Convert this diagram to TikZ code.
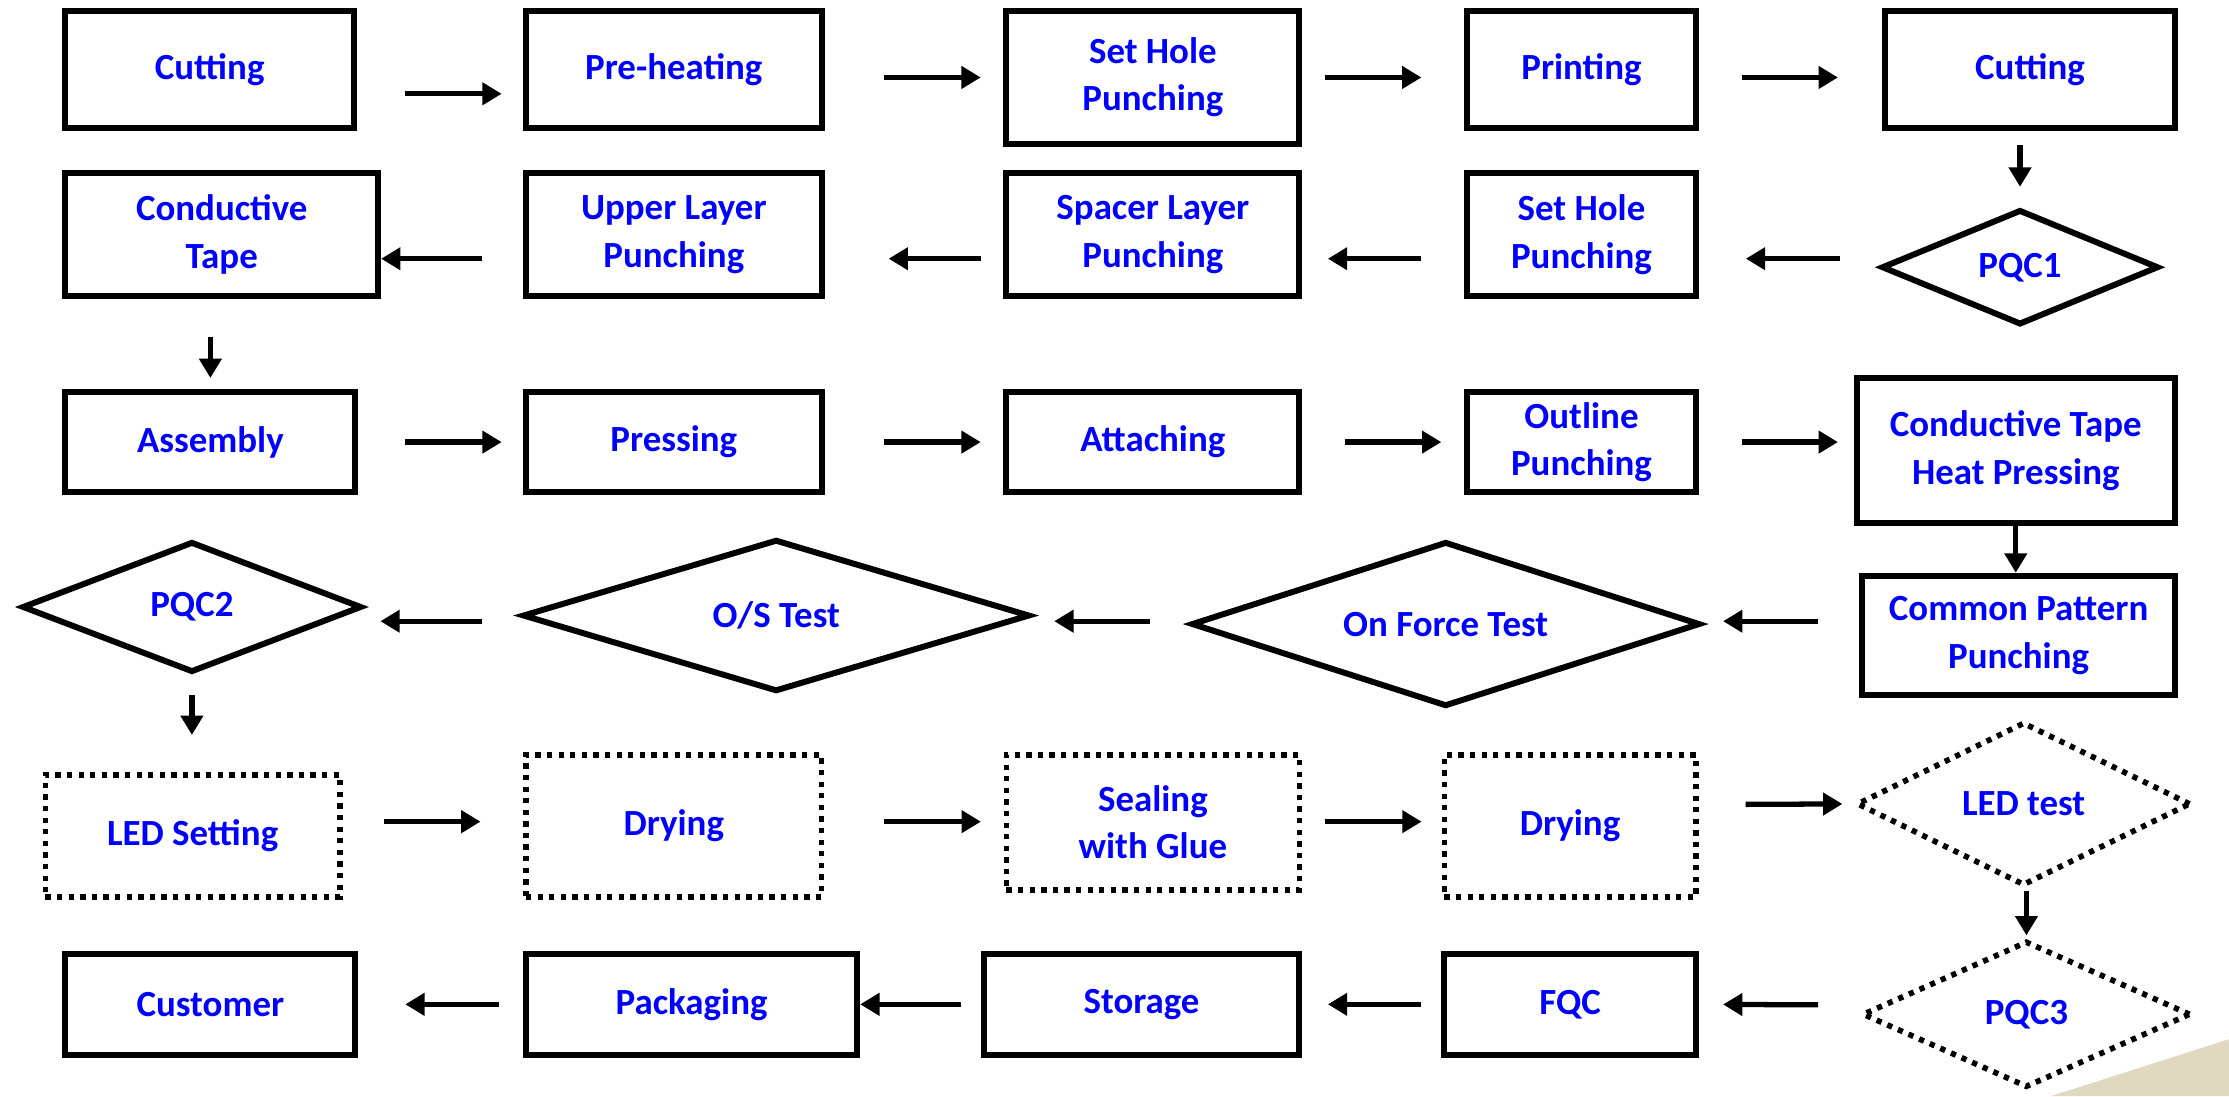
\documentclass[tikz,border=0pt]{standalone}
\usepackage{fontspec}
\setmainfont{Carlito}
\usetikzlibrary{positioning, arrows.meta, shapes.geometric}

\definecolor{sand}{RGB}{225,216,193}
\def\pxu{0.014216cm}

\begin{document}
\begin{tikzpicture}[x=\pxu, y=-\pxu,
    every node/.style={inner sep=0, align=center, text=blue,
        font=\bfseries\fontsize{10.5}{13.5}\selectfont},
    procbox/.style={draw, line width=1.7pt},
    dotbox/.style={draw, line width=1.6pt, dash pattern=on 1.5pt off 1.8pt},
    checkdia/.style={draw, diamond, aspect=2.5, line width=1.7pt},
    dotdia/.style={draw, diamond, aspect=2.5, line width=1.6pt,
        dash pattern=on 1.5pt off 1.8pt},
    flow/.style={-{Triangle[length=5.5pt, width=6.2pt]}, line width=1.5pt},
    gaps/.style 2 args={shorten <=#1*\pxu, shorten >=#2*\pxu}
]
    \useasboundingbox (0,0) rectangle (1568,771);
    \fill [sand] (1443,771) -- (1568,731) -- (1568,771) -- cycle;

    % first row
    \node [procbox, minimum width=203*\pxu, minimum height=82*\pxu] (cutA) at (147.5,49) {Cutting};
    \node [procbox, minimum width=208*\pxu, minimum height=82*\pxu] (preheat) at (474,49) {Pre-heating};
    \node [procbox, minimum width=206*\pxu, minimum height=93*\pxu] (holeA) at (811,54.5) {Set Hole\\Punching};
    \node [procbox, minimum width=161*\pxu, minimum height=82*\pxu] (printing) at (1112.5,49) {Printing};
    \node [procbox, minimum width=204*\pxu, minimum height=82*\pxu] (cutB) at (1428,49) {Cutting};

    % second row
    \node [procbox, minimum width=220*\pxu, minimum height=86*\pxu] (tape) at (156,165) {Conductive\\Tape};
    \node [procbox, minimum width=208*\pxu, minimum height=86*\pxu] (upper) at (474,165) {Upper Layer\\Punching};
    \node [procbox, minimum width=206*\pxu, minimum height=86*\pxu] (spacer) at (811,165) {Spacer Layer\\Punching};
    \node [procbox, minimum width=161*\pxu, minimum height=86*\pxu] (holeB) at (1112.5,165) {Set Hole\\Punching};
    \node [checkdia, minimum width=195*\pxu, minimum height=81*\pxu] (pqcA) at (1421,188) {PQC1};

    % third row
    \node [procbox, minimum width=204*\pxu, minimum height=70*\pxu] (assembly) at (148,311) {Assembly};
    \node [procbox, minimum width=208*\pxu, minimum height=70*\pxu] (pressing) at (474,311) {Pressing};
    \node [procbox, minimum width=206*\pxu, minimum height=70*\pxu] (attaching) at (811,311) {Attaching};
    \node [procbox, minimum width=161*\pxu, minimum height=70*\pxu] (outline) at (1112.5,311) {Outline\\Punching};
    \node [procbox, minimum width=224*\pxu, minimum height=102*\pxu] (heatpress) at (1418,317) {Conductive Tape\\Heat Pressing};

    % fourth row
    \node [checkdia, minimum width=239*\pxu, minimum height=92*\pxu] (pqcB) at (135,427) {PQC2};
    \node [checkdia, minimum width=357*\pxu, minimum height=107*\pxu] (ostest) at (546,433) {O/S Test};
    \node [checkdia, minimum width=358*\pxu, minimum height=116*\pxu] (forcetest) at (1017,439) {On Force Test};
    \node [procbox, minimum width=220*\pxu, minimum height=84*\pxu] (common) at (1420,447) {Common Pattern\\Punching};

    % fifth row (dotted)
    \node [dotbox, minimum width=207*\pxu, minimum height=86*\pxu] (ledset) at (135.5,588) {LED Setting};
    \node [dotbox, minimum width=208*\pxu, minimum height=100*\pxu] (dryA) at (474,581) {Drying};
    \node [dotbox, minimum width=206*\pxu, minimum height=95*\pxu] (sealing) at (811,578.5) {Sealing\\with Glue};
    \node [dotbox, minimum width=177*\pxu, minimum height=100*\pxu] (dryB) at (1104.5,581) {Drying};
    \node [dotdia, minimum width=235*\pxu, minimum height=115*\pxu] (ledtest) at (1423.5,565.5) {LED test};

    % last row
    \node [procbox, minimum width=204*\pxu, minimum height=71*\pxu] (customer) at (148,706.5) {Customer};
    \node [procbox, minimum width=233*\pxu, minimum height=71*\pxu] (packaging) at (486.5,706.5) {Packaging};
    \node [procbox, minimum width=222*\pxu, minimum height=71*\pxu] (storage) at (803,706.5) {Storage};
    \node [procbox, minimum width=177*\pxu, minimum height=71*\pxu] (fqc) at (1104.5,706.5) {FQC};
    \node [dotdia, minimum width=231*\pxu, minimum height=103*\pxu] (pqcC) at (1425.5,713.5) {PQC3};

    % arrows, row by row
    \draw [flow, gaps={34}{15}] ([yshift=-17*\pxu]cutA.east) -- ([yshift=-17*\pxu]preheat.west);
    \draw [flow, gaps={42}{16}] ([yshift=-5.5*\pxu]preheat.east) -- (holeA.west);
    \draw [flow, gaps={16}{30}] (holeA.east) -- ([yshift=-5.5*\pxu]printing.west);
    \draw [flow, gaps={30}{31}] ([yshift=-5.5*\pxu]printing.east) -- ([yshift=-5.5*\pxu]cutB.west);
    \draw [flow, gaps={10}{14}] (cutB.south -| pqcA.north) -- (pqcA.north);

    \draw [flow, gaps={27}{33}] ([yshift=6*\pxu]pqcA.west) -- ([yshift=-17*\pxu]holeB.east);
    \draw [flow, gaps={30}{18}] ([yshift=-17*\pxu]holeB.west) -- ([yshift=-17*\pxu]spacer.east);
    \draw [flow, gaps={16}{45}] ([yshift=-17*\pxu]spacer.west) -- ([yshift=-17*\pxu]upper.east);
    \draw [flow, gaps={29}{0}] ([yshift=-17*\pxu]upper.west) -- ([yshift=-17*\pxu]tape.east);
    \draw [flow, gaps={27}{8}] (tape.south -| assembly.north) -- (assembly.north);

    \draw [flow, gaps={33}{15}] (assembly) -- (pressing);
    \draw [flow, gaps={42}{16}] (pressing) -- (attaching);
    \draw [flow, gaps={30}{16}] (attaching) -- (outline);
    \draw [flow, gaps={30}{11}] (outline.east) -- ([yshift=6*\pxu]heatpress.west);
    \draw [flow] (heatpress.south) -- (heatpress.south |- common.north);

    \draw [flow, gaps={29}{14}] ([yshift=10*\pxu]common.west) -- ([yshift=2*\pxu]forcetest.east);
    \draw [flow, gaps={27}{15}] ([yshift=2*\pxu]forcetest.west) -- ([yshift=-4*\pxu]ostest.east);
    \draw [flow, gaps={26}{11}] ([yshift=-4*\pxu]ostest.west) -- ([yshift=-10*\pxu]pqcB.east);
    \draw [flow, gaps={14}{26}] (pqcB.south) -- (pqcB.south |- ledset.north);

    \draw [flow, gaps={29}{30}] ([yshift=10*\pxu]ledset.east) -- ([yshift=3*\pxu]dryA.west);
    \draw [flow, gaps={42}{16}] ([yshift=3*\pxu]dryA.east) -- ([yshift=0.5*\pxu]sealing.west);
    \draw [flow, gaps={16}{14}] ([yshift=0.5*\pxu]sealing.east) -- ([yshift=3*\pxu]dryB.west);
    \draw [flow, gaps={33}{8}] ([yshift=15*\pxu]dryB.east) -- (ledtest.west);
    \draw [flow, gaps={2}{2}] (ledtest.south -| pqcC.north) -- (pqcC.north);

    \draw [flow, gaps={29}{17}] ([yshift=6.5*\pxu]pqcC.west) -- (fqc.east);
    \draw [flow, gaps={14}{18}] (fqc) -- (storage);
    \draw [flow, gaps={14}{0}] (storage) -- (packaging);
    \draw [flow, gaps={17}{33}] (packaging) -- (customer);
\end{tikzpicture}
\end{document}
